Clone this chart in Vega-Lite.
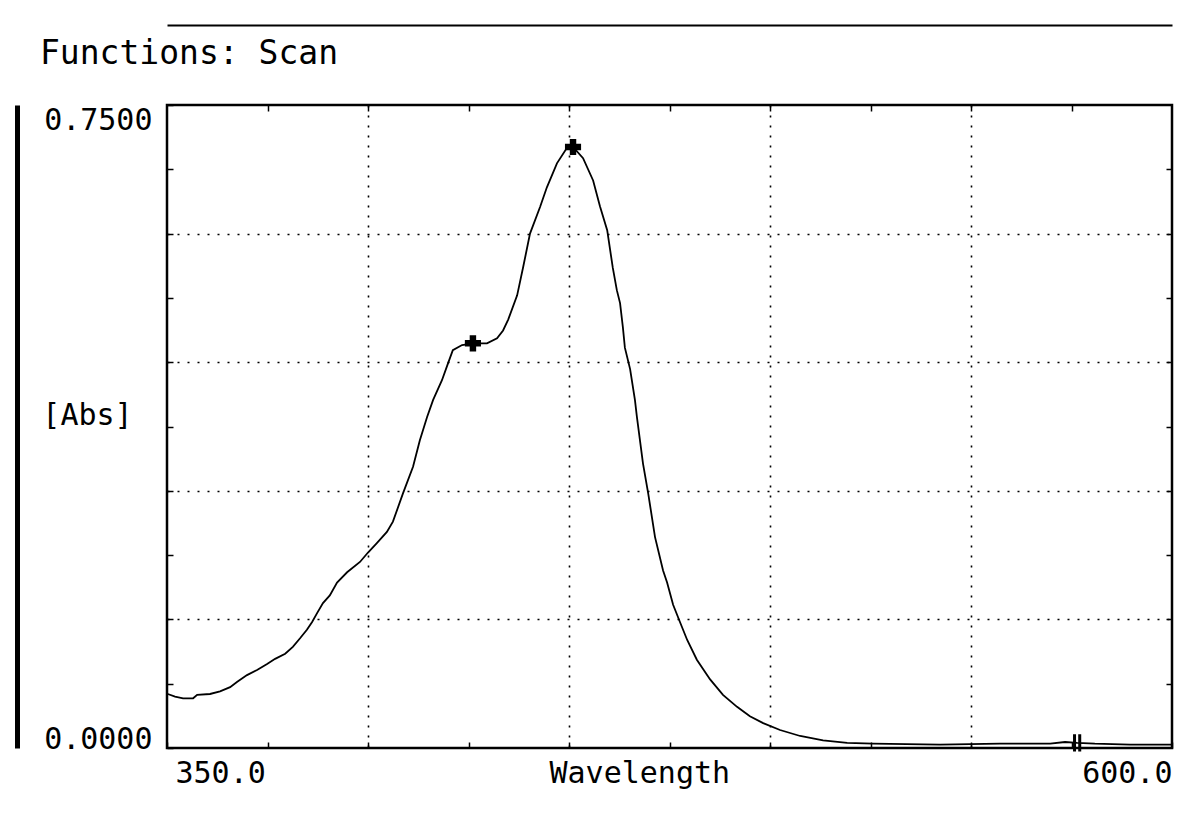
{
  "$schema": "https://vega.github.io/schema/vega-lite/v6.json",
  "autosize": "none",
  "width": 1005,
  "height": 643,
  "padding": {"left": 167, "top": 105, "right": 17, "bottom": 66},
  "background": "white",
  "title": {
    "text": "Functions: Scan",
    "anchor": "start",
    "frame": "group",
    "font": "DejaVu Sans Mono",
    "fontSize": 33,
    "fontWeight": "normal",
    "color": "black",
    "baseline": "alphabetic",
    "offset": -72,
    "dx": -127
  },
  "config": {
    "view": {"stroke": "black", "strokeWidth": 2.5},
    "font": "DejaVu Sans Mono"
  },
  "datasets": {
    "curve": [
      {"wl": 350.2, "A": 0.063}, {"wl": 352.0, "A": 0.060}, {"wl": 354.0, "A": 0.058},
      {"wl": 356.5, "A": 0.058}, {"wl": 357.5, "A": 0.062}, {"wl": 360.7, "A": 0.063},
      {"wl": 363.2, "A": 0.066}, {"wl": 365.7, "A": 0.071}, {"wl": 367.4, "A": 0.077},
      {"wl": 369.9, "A": 0.085}, {"wl": 372.4, "A": 0.091}, {"wl": 374.9, "A": 0.098},
      {"wl": 376.9, "A": 0.104}, {"wl": 379.4, "A": 0.110}, {"wl": 381.3, "A": 0.118},
      {"wl": 383.1, "A": 0.128}, {"wl": 384.8, "A": 0.138}, {"wl": 386.1, "A": 0.147},
      {"wl": 387.3, "A": 0.157}, {"wl": 388.8, "A": 0.169}, {"wl": 390.5, "A": 0.178},
      {"wl": 392.3, "A": 0.193}, {"wl": 394.8, "A": 0.205}, {"wl": 398.0, "A": 0.217},
      {"wl": 400.0, "A": 0.228}, {"wl": 402.2, "A": 0.239}, {"wl": 404.7, "A": 0.252},
      {"wl": 406.2, "A": 0.264}, {"wl": 408.7, "A": 0.297}, {"wl": 411.2, "A": 0.328},
      {"wl": 412.9, "A": 0.359}, {"wl": 414.7, "A": 0.386}, {"wl": 416.2, "A": 0.406},
      {"wl": 418.4, "A": 0.429}, {"wl": 419.7, "A": 0.446}, {"wl": 421.1, "A": 0.464},
      {"wl": 423.4, "A": 0.470}, {"wl": 426.1, "A": 0.472}, {"wl": 429.6, "A": 0.472},
      {"wl": 432.1, "A": 0.478}, {"wl": 433.6, "A": 0.487}, {"wl": 434.9, "A": 0.500},
      {"wl": 437.1, "A": 0.528}, {"wl": 438.6, "A": 0.561}, {"wl": 440.3, "A": 0.600},
      {"wl": 442.8, "A": 0.631}, {"wl": 444.5, "A": 0.654}, {"wl": 447.0, "A": 0.682},
      {"wl": 449.5, "A": 0.700}, {"wl": 451.0, "A": 0.701}, {"wl": 453.5, "A": 0.688},
      {"wl": 456.0, "A": 0.662}, {"wl": 457.7, "A": 0.632}, {"wl": 459.5, "A": 0.604},
      {"wl": 460.9, "A": 0.560}, {"wl": 461.9, "A": 0.534}, {"wl": 462.7, "A": 0.519},
      {"wl": 463.4, "A": 0.491}, {"wl": 463.9, "A": 0.467}, {"wl": 465.2, "A": 0.442},
      {"wl": 466.4, "A": 0.406}, {"wl": 466.9, "A": 0.386}, {"wl": 468.4, "A": 0.332},
      {"wl": 469.7, "A": 0.297}, {"wl": 471.4, "A": 0.246}, {"wl": 473.4, "A": 0.207},
      {"wl": 474.4, "A": 0.193}, {"wl": 475.9, "A": 0.167}, {"wl": 477.6, "A": 0.147},
      {"wl": 479.4, "A": 0.126}, {"wl": 481.8, "A": 0.103}, {"wl": 485.1, "A": 0.080},
      {"wl": 488.3, "A": 0.062}, {"wl": 491.8, "A": 0.048}, {"wl": 495.0, "A": 0.037},
      {"wl": 498.3, "A": 0.029}, {"wl": 502.5, "A": 0.021}, {"wl": 507.5, "A": 0.014},
      {"wl": 513.2, "A": 0.009}, {"wl": 519.2, "A": 0.006}, {"wl": 525.6, "A": 0.005},
      {"wl": 542.3, "A": 0.004}, {"wl": 557.2, "A": 0.005}, {"wl": 569.7, "A": 0.005},
      {"wl": 573.4, "A": 0.007}, {"wl": 576.4, "A": 0.006}, {"wl": 580.8, "A": 0.005},
      {"wl": 589.6, "A": 0.004}, {"wl": 600.0, "A": 0.004}
    ],
    "peaks": [
      {"wl": 426.1, "A": 0.472},
      {"wl": 451.0, "A": 0.701}
    ],
    "cursor": [
      {"wl": 576.4, "A": 0.006}
    ]
  },
  "layer": [
    {
      "data": {"name": "curve"},
      "mark": {"type": "line", "color": "black", "strokeWidth": 1.8, "clip": true},
      "encoding": {
        "x": {
          "field": "wl", "type": "quantitative",
          "scale": {"domain": [350, 600], "nice": false, "zero": false},
          "axis": {
            "orient": "bottom",
            "values": [350, 375, 400, 425, 450, 475, 500, 525, 550, 575, 600],
            "domain": false,
            "ticks": true, "tickSize": -6, "tickColor": "black", "tickWidth": 1.5,
            "grid": true,
            "gridColor": {"condition": {"test": "datum.value == 400 || datum.value == 450 || datum.value == 500 || datum.value == 550", "value": "black"}, "value": "transparent"},
            "gridDash": [2, 8], "gridWidth": 1.6,
            "labelExpr": "datum.value == 350 || datum.value == 600 ? format(datum.value, '.1f') : ''",
            "labelFont": "DejaVu Sans Mono", "labelFontSize": 30, "labelColor": "black",
            "labelFlush": true, "labelOverlap": false,
            "labelOffset": {"condition": {"test": "datum.value == 350", "value": 8}, "value": 0},
            "labelPadding": 16, "labelBaseline": "top",
            "title": "Wavelength",
            "titleFont": "DejaVu Sans Mono", "titleFontSize": 30, "titleFontWeight": "normal", "titleColor": "black",
            "titleX": 382, "titleY": 34, "titleAlign": "left", "titleBaseline": "alphabetic", "titleAnchor": null
          }
        },
        "y": {
          "field": "A", "type": "quantitative",
          "scale": {"domain": [0, 0.75], "nice": false},
          "axis": {
            "orient": "left",
            "values": [0, 0.075, 0.15, 0.225, 0.3, 0.375, 0.45, 0.525, 0.6, 0.675, 0.75],
            "domain": false,
            "ticks": true, "tickSize": -6, "tickColor": "black", "tickWidth": 1.5,
            "grid": true,
            "gridColor": {"condition": {"test": "datum.value == 0.15 || datum.value == 0.3 || datum.value == 0.45 || datum.value == 0.6", "value": "black"}, "value": "transparent"},
            "gridDash": [2, 8], "gridWidth": 1.6,
            "labelExpr": "datum.value == 0 || datum.value == 0.75 ? format(datum.value, '.4f') : ''",
            "labelFont": "DejaVu Sans Mono", "labelFontSize": 30, "labelColor": "black",
            "labelFlush": false, "labelOverlap": false,
            "labelBaseline": {"condition": {"test": "datum.value == 0", "value": "alphabetic"}, "value": "top"},
            "labelPadding": 21,
            "title": "[Abs]",
            "titleFont": "DejaVu Sans Mono", "titleFontSize": 30, "titleFontWeight": "normal", "titleColor": "black",
            "titleAngle": 0, "titleX": -80, "titleY": 310, "titleAlign": "center", "titleBaseline": "middle"
          }
        }
      }
    },
    {
      "data": {"name": "peaks"},
      "mark": {"type": "point", "shape": "cross", "filled": true, "color": "black", "size": 260, "opacity": 1},
      "encoding": {
        "x": {
          "field": "wl", "type": "quantitative",
          "axis": {
            "orient": "top",
            "values": [375, 400, 425, 450, 475, 500, 525, 550, 575],
            "domain": false, "labels": false, "grid": false,
            "ticks": true, "tickSize": -6, "tickColor": "black", "tickWidth": 1.5,
            "title": null
          }
        },
        "y": {
          "field": "A", "type": "quantitative",
          "axis": {
            "orient": "right",
            "values": [0.075, 0.15, 0.225, 0.3, 0.375, 0.45, 0.525, 0.6, 0.675],
            "domain": false, "labels": false, "grid": false,
            "ticks": true, "tickSize": -6, "tickColor": "black", "tickWidth": 1.5,
            "title": null
          }
        }
      }
    },
    {
      "data": {"name": "cursor"},
      "mark": {"type": "point", "shape": "M-0.3,-1L-0.3,1M0.3,-1L0.3,1", "filled": false, "stroke": "black", "strokeWidth": 3, "size": 300, "opacity": 1},
      "encoding": {
        "x": {
          "field": "wl", "type": "quantitative",
          "axis": {
            "orient": "top", "offset": 80,
            "domain": true, "domainColor": "black", "domainWidth": 2,
            "labels": false, "ticks": false, "grid": false, "title": null
          }
        },
        "y": {
          "field": "A", "type": "quantitative",
          "axis": {
            "orient": "left", "offset": 150,
            "domain": true, "domainColor": "black", "domainWidth": 5,
            "labels": false, "ticks": false, "grid": false, "title": null
          }
        }
      }
    }
  ],
  "resolve": {"axis": {"x": "independent", "y": "independent"}}
}
